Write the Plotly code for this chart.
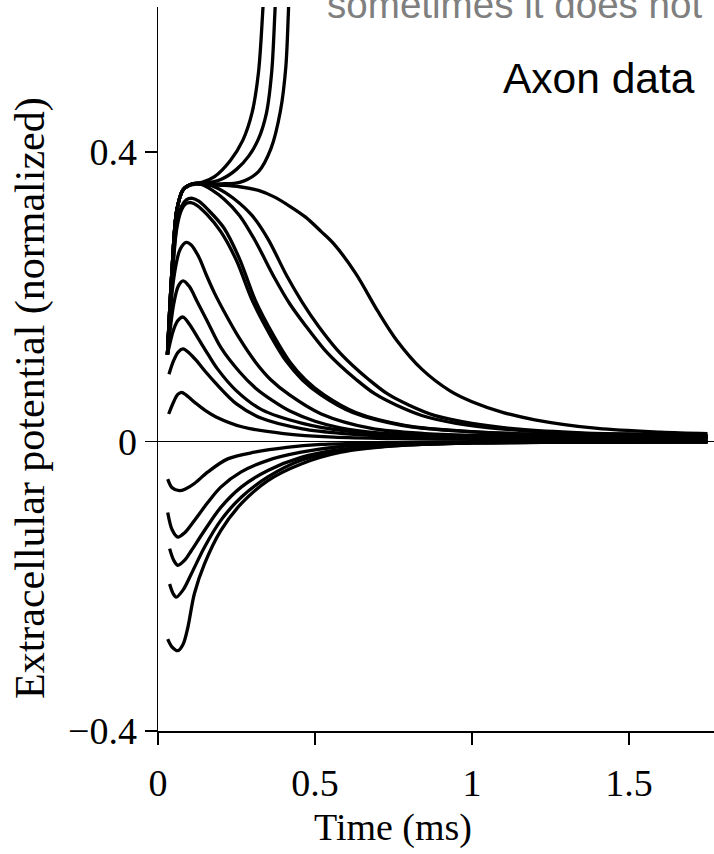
import plotly.graph_objects as go

# ---------------- data ----------------
# spiking traces (leave the top of the plot)
t_s1 = [0.03, 0.045, 0.06, 0.08, 0.11, 0.14, 0.18, 0.23, 0.27, 0.30, 0.32, 0.333, 0.34]
v_s1 = [0.12, 0.24, 0.32, 0.348, 0.356, 0.358, 0.366, 0.388, 0.416, 0.455, 0.51, 0.59, 0.65]
t_s2 = [0.03, 0.045, 0.06, 0.08, 0.11, 0.15, 0.2, 0.25, 0.29, 0.32, 0.345, 0.362, 0.372, 0.378]
v_s2 = [0.12, 0.24, 0.32, 0.348, 0.356, 0.357, 0.362, 0.376, 0.395, 0.418, 0.453, 0.51, 0.59, 0.65]
t_s3 = [0.03, 0.045, 0.06, 0.08, 0.11, 0.15, 0.2, 0.26, 0.32, 0.36, 0.39, 0.407, 0.415, 0.42]
v_s3 = [0.12, 0.24, 0.32, 0.348, 0.356, 0.356, 0.356, 0.358, 0.373, 0.405, 0.457, 0.517, 0.59, 0.65]

# broad plateau trace
t_b = [0.03, 0.045, 0.06, 0.08, 0.11, 0.15, 0.2, 0.26, 0.32, 0.37, 0.42, 0.47, 0.52, 0.56,
       0.63, 0.7, 0.76, 0.84, 0.93, 1.0, 1.1, 1.2, 1.4, 1.6, 1.75]
v_b = [0.12, 0.24, 0.32, 0.348, 0.355, 0.355, 0.354, 0.352, 0.347, 0.338, 0.325, 0.31, 0.29, 0.273,
       0.232, 0.18, 0.14, 0.1, 0.07, 0.055, 0.04, 0.03, 0.018, 0.013, 0.011]

# two medium plateau traces
t_m1 = [0.03, 0.045, 0.06, 0.08, 0.11, 0.14, 0.17, 0.21, 0.26, 0.31, 0.37, 0.42, 0.47, 0.53,
        0.58, 0.63, 0.69, 0.76, 0.84, 0.95, 1.1, 1.3, 1.5, 1.75]
v_m1 = [0.12, 0.24, 0.32, 0.348, 0.356, 0.355, 0.348, 0.335, 0.312, 0.277, 0.227, 0.19, 0.16, 0.127,
        0.105, 0.086, 0.066, 0.05, 0.036, 0.025, 0.017, 0.012, 0.01, 0.008]
t_m2 = [0.03, 0.045, 0.06, 0.08, 0.11, 0.15, 0.19, 0.24, 0.3, 0.35, 0.41, 0.46, 0.51, 0.57,
        0.62, 0.67, 0.73, 0.8, 0.88, 1.0, 1.15, 1.35, 1.55, 1.75]
v_m2 = [0.12, 0.24, 0.32, 0.348, 0.356, 0.356, 0.35, 0.336, 0.312, 0.28, 0.229, 0.192, 0.16, 0.127,
        0.105, 0.086, 0.066, 0.05, 0.036, 0.025, 0.017, 0.012, 0.01, 0.008]

# the two overlapping traces peaking near 0.33
t_p6a = [0.03, 0.045, 0.06, 0.075, 0.09, 0.11, 0.13, 0.16, 0.21, 0.26, 0.31, 0.37, 0.42, 0.47,
         0.53, 0.63, 0.79, 0.95, 1.2, 1.5, 1.75]
v_p6a = [0.12, 0.23, 0.3, 0.325, 0.334, 0.336, 0.332, 0.32, 0.295, 0.252, 0.195, 0.145, 0.11, 0.085,
         0.064, 0.04, 0.022, 0.015, 0.01, 0.008, 0.007]
t_p6b = [0.03, 0.045, 0.06, 0.075, 0.09, 0.105, 0.125, 0.155, 0.2, 0.25, 0.3, 0.36, 0.41, 0.46,
         0.52, 0.62, 0.78, 0.94, 1.2, 1.5, 1.75]
v_p6b = [0.12, 0.225, 0.295, 0.32, 0.329, 0.33, 0.326, 0.314, 0.29, 0.25, 0.195, 0.145, 0.11, 0.085,
         0.064, 0.04, 0.022, 0.015, 0.01, 0.008, 0.007]

# smaller positive humps
t_p5 = [0.03, 0.05, 0.07, 0.09, 0.105, 0.13, 0.155, 0.18, 0.21, 0.26, 0.31, 0.36, 0.42, 0.52,
        0.68, 0.85, 1.1, 1.4, 1.75]
v_p5 = [0.12, 0.225, 0.265, 0.275, 0.272, 0.255, 0.229, 0.205, 0.18, 0.142, 0.11, 0.085, 0.064, 0.038,
        0.018, 0.011, 0.008, 0.006, 0.005]
t_p4 = [0.03, 0.05, 0.065, 0.08, 0.1, 0.125, 0.155, 0.2, 0.26, 0.31, 0.37, 0.42, 0.5, 0.58,
        0.7, 0.9, 1.2, 1.5, 1.75]
v_p4 = [0.12, 0.19, 0.215, 0.222, 0.214, 0.193, 0.168, 0.13, 0.096, 0.074, 0.055, 0.042, 0.028, 0.019,
        0.012, 0.008, 0.006, 0.005, 0.005]
t_p3 = [0.03, 0.05, 0.065, 0.08, 0.1, 0.13, 0.16, 0.19, 0.25, 0.33, 0.46, 0.59, 0.75, 1.0, 1.3, 1.75]
v_p3 = [0.12, 0.155, 0.168, 0.172, 0.162, 0.141, 0.12, 0.1, 0.07, 0.044, 0.025, 0.015, 0.01, 0.007,
        0.005, 0.004]
t_p2 = [0.035, 0.05, 0.065, 0.08, 0.1, 0.122, 0.15, 0.185, 0.25, 0.33, 0.46, 0.59, 0.75, 1.0, 1.3, 1.75]
v_p2 = [0.093, 0.112, 0.124, 0.128, 0.122, 0.112, 0.097, 0.08, 0.052, 0.032, 0.0175, 0.011, 0.007,
        0.005, 0.004, 0.003]
t_p1 = [0.034, 0.05, 0.063, 0.075, 0.09, 0.12, 0.15, 0.185, 0.27, 0.4, 0.56, 0.75, 1.0, 1.3, 1.75]
v_p1 = [0.038, 0.055, 0.065, 0.068, 0.064, 0.053, 0.043, 0.034, 0.02, 0.011, 0.006, 0.004, 0.003,
        0.003, 0.002]

# negative traces
t_n1 = [0.031, 0.045, 0.068, 0.09, 0.116, 0.159, 0.222, 0.307, 0.41, 0.52, 0.7, 0.9, 1.2, 1.5, 1.75]
v_n1 = [-0.052, -0.064, -0.068, -0.065, -0.058, -0.042, -0.024, -0.0148, -0.008, -0.004, -0.002,
        -0.001, -0.001, -0.0005, -0.0005]
t_n2 = [0.031, 0.045, 0.063, 0.085, 0.116, 0.159, 0.2, 0.265, 0.35, 0.456, 0.583, 0.75, 1.0, 1.3, 1.75]
v_n2 = [-0.098, -0.122, -0.132, -0.126, -0.109, -0.084, -0.063, -0.042, -0.026, -0.0148, -0.0069,
        -0.003, -0.0015, -0.001, -0.0005]
t_n3 = [0.037, 0.05, 0.063, 0.085, 0.106, 0.148, 0.2, 0.265, 0.35, 0.456, 0.583, 0.75, 1.0, 1.3, 1.75]
v_n3 = [-0.148, -0.164, -0.171, -0.164, -0.151, -0.123, -0.091, -0.063, -0.04, -0.022, -0.011,
        -0.005, -0.002, -0.001, -0.0005]
t_n4 = [0.037, 0.048, 0.058, 0.08, 0.106, 0.148, 0.2, 0.265, 0.35, 0.456, 0.583, 0.75, 1.0, 1.3, 1.75]
v_n4 = [-0.197, -0.21, -0.215, -0.205, -0.183, -0.146, -0.109, -0.077, -0.049, -0.026, -0.013,
        -0.006, -0.002, -0.001, -0.0005]
t_n5 = [0.031, 0.045, 0.063, 0.08, 0.095, 0.116, 0.148, 0.2, 0.265, 0.35, 0.456, 0.583, 0.75, 1.0,
        1.3, 1.75]
v_n5 = [-0.273, -0.284, -0.289, -0.28, -0.257, -0.21, -0.169, -0.123, -0.086, -0.054, -0.031,
        -0.0148, -0.006, -0.002, -0.001, -0.0005]

x_tickvals = [0, 0.5, 1, 1.5]
x_ticktext = ["0", "0.5", "1", "1.5"]
y_tickvals = [-0.4, 0, 0.4]
y_ticktext = ["\u22120.4", "0", "0.4"]

traces = [
    (t_s1, v_s1), (t_s2, v_s2), (t_s3, v_s3), (t_b, v_b), (t_m1, v_m1), (t_m2, v_m2),
    (t_p6a, v_p6a), (t_p6b, v_p6b), (t_p5, v_p5), (t_p4, v_p4), (t_p3, v_p3),
    (t_p2, v_p2), (t_p1, v_p1),
    (t_n1, v_n1), (t_n2, v_n2), (t_n3, v_n3), (t_n4, v_n4), (t_n5, v_n5),
]

SERIF = "Liberation Serif"
SANS = "Liberation Sans"

# page body margin is removed (see post_script), so the figure starts at (0, 0)
ML, MT, MB, MR = 158, 7, 123, 0
PW = 714 - ML - MR          # plot width in px
PH = 854 - MT - MB          # plot height in px
PX_PER_MS = 314.0
PX_PER_UNIT = 723.75

fig = go.Figure()
for tt, vv in traces:
    fig.add_trace(go.Scatter(
        x=tt, y=vv, mode="lines",
        line=dict(color="black", width=3.3, shape="spline", smoothing=0.9),
        showlegend=False, hoverinfo="skip",
    ))

fig.update_layout(
    width=714, height=854,
    margin=dict(l=ML, r=MR, t=MT, b=MB, pad=0),
    paper_bgcolor="white", plot_bgcolor="white",
    showlegend=False,
    xaxis=dict(
        range=[0, PW / PX_PER_MS], showgrid=False, zeroline=False,
        showline=True, linecolor="black", linewidth=1.5,
        ticks="outside", ticklen=12, tickwidth=1.5, tickcolor="black",
        tickvals=x_tickvals, ticktext=x_ticktext, ticklabelstandoff=6,
        tickfont=dict(family=SERIF, size=38, color="black"),
        automargin=False,
    ),
    yaxis=dict(
        range=[-0.4, -0.4 + PH / PX_PER_UNIT], showgrid=False,
        zeroline=True, zerolinecolor="black", zerolinewidth=1.5,
        showline=True, linecolor="black", linewidth=1.5,
        ticks="outside", ticklen=12, tickwidth=1.5, tickcolor="black",
        tickvals=y_tickvals, ticktext=y_ticktext,
        tickfont=dict(family=SERIF, size=38, color="black"),
        automargin=False,
    ),
)

def px_x(sx):
    return (sx - ML) / PW

def px_y(sy):
    return (854 - MB - sy) / PH

fig.add_annotation(
    text="Time (ms)", xref="paper", yref="paper", x=px_x(393), y=px_y(827),
    xanchor="center", yanchor="middle", showarrow=False,
    font=dict(family=SERIF, size=38, color="black"),
)
fig.add_annotation(
    text="Extracellular potential (normalized)", xref="paper", yref="paper",
    x=px_x(30), y=px_y(398), textangle=-90,
    xanchor="center", yanchor="middle", showarrow=False,
    font=dict(family=SERIF, size=42, color="black"),
)
fig.add_annotation(
    text="Axon data", xref="paper", yref="paper", x=px_x(697), y=px_y(78.5),
    xanchor="right", yanchor="middle", showarrow=False,
    font=dict(family=SANS, size=42.5, color="black"),
)
fig.add_annotation(
    text="sometimes it does not", xref="paper", yref="paper", x=px_x(705), y=px_y(4.5),
    xanchor="right", yanchor="middle", showarrow=False,
    font=dict(family=SANS, size=38.6, color="#7f7f7f"),
)

fig.write_html(
    "out.html",
    config={"displayModeBar": False, "staticPlot": True},
    post_script="document.body.style.margin='0px';",
)
